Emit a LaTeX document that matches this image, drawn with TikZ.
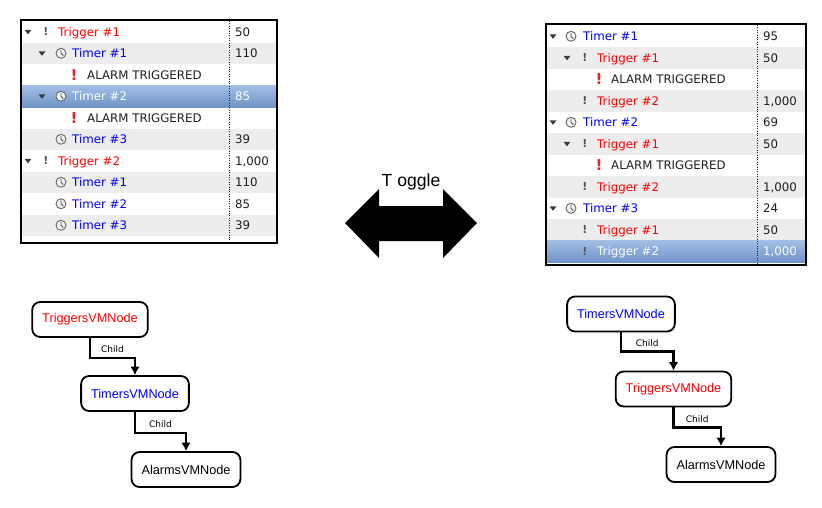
\documentclass[tikz,border=0pt]{standalone}
\usepackage{fontspec}
\setmainfont{DejaVu Sans}
\newfontfamily\arialf{Liberation Sans}
\usetikzlibrary{positioning}
\usetikzlibrary{arrows.meta}
\definecolor{trgred}{HTML}{FF0000}
\definecolor{tmrblue}{HTML}{0000FF}
\definecolor{rowgray}{HTML}{EDEDED}
\definecolor{hltop}{HTML}{A2BEE4}
\definecolor{hlbot}{HTML}{7094C8}
\definecolor{expgray}{HTML}{3A3A3A}
\definecolor{banggray}{HTML}{555555}
\definecolor{alarmred}{HTML}{E4202A}
\definecolor{txtdark}{HTML}{1E1E1E}

\begin{document}
\begin{tikzpicture}[x=1pt,y=-1pt,
    cell/.style={anchor=base west,inner sep=0,yshift=-4.3pt,font=\fontsize{11.8}{14}\selectfont,text=txtdark},
    trg/.style={cell,text=trgred},
    tmr/.style={cell,text=tmrblue},
    sel/.style={cell,text=white},
    bang/.style={inner sep=0,font=\fontsize{11}{13}\selectfont\bfseries,text=banggray},
    alarm/.style={inner sep=0,font=\fontsize{15}{17}\selectfont\bfseries,text=alarmred},
    clock/.style={circle,draw=banggray!90,fill=black!5,line width=0.9pt,minimum size=10pt,inner sep=0,
        path picture={\draw[banggray,line width=0.9pt] (path picture bounding box.center) ++(0,-3.4) -- ++(0,3.4) -- ++(2.3,2.3);}},
    expander/.pic={\fill[expgray] (-3.5,-2) -- (3.5,-2) -- (0,2.5) -- cycle;},
    vmnode/.style={draw,line width=1.8pt,rounded corners=8pt,minimum height=35pt,inner xsep=10pt,inner ysep=0,font=\arialf\fontsize{12.7}{15}\selectfont},
    childedge/.style={draw,line width=2.2pt,-{Latex[length=8.5pt,width=9.5pt]}},
    childlbl/.style={above=3pt,inner sep=1pt,font=\fontsize{9}{10}\selectfont}]
        \useasboundingbox (0,0) rectangle (822,507);
        % left tree
        \foreach \r in {2,6,8,10} \fill[rowgray] (21,{21+(\r-1)*21.5}) rectangle (276,{21+\r*21.5});
        \shade[top color=hltop,bottom color=hlbot] (21,85.5) rectangle (276,107);
        \draw[dotted,txtdark] (229,21) -- (229,241);
        \draw[line width=2pt] (20.5,19.5) rectangle (277,242.5);
        \pic at (28,31.75) {expander}; \node[bang] (lb1) at (46,31.75) {!};
        \node[trg] (lt1) at (58,31.75) {Trigger \#1}; \node[cell] (lv1) at (235,31.75) {50};
        \pic at (42,53.25) {expander}; \node[clock] (lc2) at (61,53.25) {};
        \node[tmr] (lt2) at (72,53.25) {Timer \#1}; \node[cell] (lv2) at (235,53.25) {110};
        \node[alarm] (la3) at (74,74.75) {!}; \node[cell] (lt3) at (87,74.75) {ALARM TRIGGERED};
        \pic at (42,96.25) {expander}; \node[clock] (lc4) at (61,96.25) {};
        \node[sel] (lt4) at (72,96.25) {Timer \#2}; \node[sel] (lv4) at (235,96.25) {85};
        \node[alarm] (la5) at (74,117.75) {!}; \node[cell] (lt5) at (87,117.75) {ALARM TRIGGERED};
        \node[clock] (lc6) at (61,139.25) {};
        \node[tmr] (lt6) at (72,139.25) {Timer \#3}; \node[cell] (lv6) at (235,139.25) {39};
        \pic at (28,160.75) {expander}; \node[bang] (lb7) at (46,160.75) {!};
        \node[trg] (lt7) at (58,160.75) {Trigger \#2}; \node[cell] (lv7) at (235,160.75) {1,000};
        \node[clock] (lc8) at (61,182.25) {};
        \node[tmr] (lt8) at (72,182.25) {Timer \#1}; \node[cell] (lv8) at (235,182.25) {110};
        \node[clock] (lc9) at (61,203.75) {};
        \node[tmr] (lt9) at (72,203.75) {Timer \#2}; \node[cell] (lv9) at (235,203.75) {85};
        \node[clock] (lc10) at (61,225.25) {};
        \node[tmr] (lt10) at (72,225.25) {Timer \#3}; \node[cell] (lv10) at (235,225.25) {39};
        % right tree
        \foreach \r in {2,4,6,8,10} \fill[rowgray] (546,{25.5+(\r-1)*21.5}) rectangle (805,{25.5+\r*21.5});
        \shade[top color=hltop,bottom color=hlbot] (546,240.5) rectangle (805,262);
        \draw[dotted,txtdark] (757,25) -- (757,263);
        \draw[line width=2pt] (545.5,24) rectangle (806,264.5);
        \pic at (553,36.25) {expander}; \node[clock] (rc1) at (571,36.25) {};
        \node[tmr] (rt1) at (583,36.25) {Timer \#1}; \node[cell] (rv1) at (763,36.25) {95};
        \pic at (567,57.75) {expander}; \node[bang] (rb2) at (585,57.75) {!};
        \node[trg] (rt2) at (597,57.75) {Trigger \#1}; \node[cell] (rv2) at (763,57.75) {50};
        \node[alarm] (ra3) at (599,79.25) {!}; \node[cell] (rt3) at (611,79.25) {ALARM TRIGGERED};
        \node[bang] (rb4) at (585,100.75) {!};
        \node[trg] (rt4) at (597,100.75) {Trigger \#2}; \node[cell] (rv4) at (763,100.75) {1,000};
        \pic at (553,122.25) {expander}; \node[clock] (rc5) at (571,122.25) {};
        \node[tmr] (rt5) at (583,122.25) {Timer \#2}; \node[cell] (rv5) at (763,122.25) {69};
        \pic at (567,143.75) {expander}; \node[bang] (rb6) at (585,143.75) {!};
        \node[trg] (rt6) at (597,143.75) {Trigger \#1}; \node[cell] (rv6) at (763,143.75) {50};
        \node[alarm] (ra7) at (599,165.25) {!}; \node[cell] (rt7) at (611,165.25) {ALARM TRIGGERED};
        \node[bang] (rb8) at (585,186.75) {!};
        \node[trg] (rt8) at (597,186.75) {Trigger \#2}; \node[cell] (rv8) at (763,186.75) {1,000};
        \pic at (553,208.25) {expander}; \node[clock] (rc9) at (571,208.25) {};
        \node[tmr] (rt9) at (583,208.25) {Timer \#3}; \node[cell] (rv9) at (763,208.25) {24};
        \node[bang] (rb10) at (585,229.75) {!};
        \node[trg] (rt10) at (597,229.75) {Trigger \#1}; \node[cell] (rv10) at (763,229.75) {50};
        \node[bang] (rb11) at (585,251.25) {!};
        \node[sel] (rt11) at (597,251.25) {Trigger \#2}; \node[sel] (rv11) at (763,251.25) {1,000};
        % toggle
        \fill (345,223) -- (379,189) -- (379,206) -- (443,206) -- (443,189) -- (477,223)
            -- (443,258) -- (443,241) -- (379,241) -- (379,258) -- cycle;
        \node[font=\arialf\fontsize{17.6}{20}\selectfont] (toggle) at (411,182) {T oggle};
        % node graphs
        \node[vmnode,text=trgred] (trigL) at (90,319.5) {TriggersVMNode};
        \node[vmnode,text=tmrblue] (timeL) at (135,393.5) {TimersVMNode};
        \node[vmnode] (alarmL) at (186,469.5) {AlarmsVMNode};
        \path[childedge] (trigL.south) -- ++(0,20) -| (timeL.north) node[childlbl,pos=0.25] {Child};
        \path[childedge] (timeL.south) -- ++(0,21) -| (alarmL.north) node[childlbl,pos=0.25] {Child};
        \node[vmnode,text=tmrblue] (timeR) at (621,314) {TimersVMNode};
        \node[vmnode,text=trgred] (trigR) at (673.5,389) {TriggersVMNode};
        \node[vmnode] (alarmR) at (721,464.5) {AlarmsVMNode};
        \path[childedge] (timeR.south) -- ++(0,19) -| (trigR.north) node[childlbl,pos=0.25] {Child};
        \path[childedge] (trigR.south) -- ++(0,20) -| (alarmR.north) node[childlbl,pos=0.25] {Child};
    \end{tikzpicture}
\end{document}
